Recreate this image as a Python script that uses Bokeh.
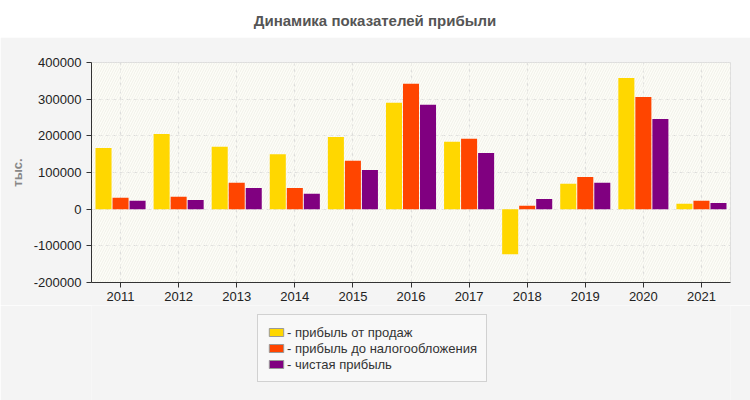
from bokeh.plotting import figure
from bokeh.models import (FactorRange, Range1d, FixedTicker, NumeralTickFormatter, Legend, LegendItem,
                          BoxAnnotation, Div)
from bokeh.layouts import column
from bokeh.transform import dodge
from bokeh.embed import file_html
from bokeh.resources import INLINE

years = ["2011", "2012", "2013", "2014", "2015", "2016", "2017", "2018", "2019", "2020", "2021"]
sales_profit = [167000, 205000, 170000, 150000, 197000, 290000, 184000, -123000, 69000, 358000, 15000]
pretax_profit = [31000, 34000, 72000, 58000, 132000, 342000, 192000, 9000, 88000, 306000, 23000]
net_profit = [23000, 25000, 58000, 42000, 107000, 285000, 153000, 28000, 72000, 246000, 17000]
series_names = ["- прибыль от продаж", "- прибыль до налогообложения", "- чистая прибыль"]
colors = ["#FFD700", "#FF4500", "#800080"]
y_ticks = [-200000, -100000, 0, 100000, 200000, 300000, 400000]

FONT = "Liberation Sans"
PANEL = "#f4f4f4"

title = Div(text="Динамика показателей прибыли", width=750, height=37, margin=0,
            styles={"text-align": "center", "font-family": FONT, "font-weight": "bold",
                    "font-size": "15px", "color": "#555", "padding-top": "10px",
                    "box-sizing": "border-box", "width": "750px"})

p = figure(width=750, height=268, x_range=FactorRange(*years), y_range=Range1d(-200000, 400000),
           output_backend="svg", toolbar_location=None, margin=0,
           min_border_left=91, min_border_right=20, min_border_top=25, min_border_bottom=23)
p.border_fill_color = PANEL
p.background_fill_color = "#fdfdf8"
p.outline_line_color = "#dddddd"

p.add_layout(BoxAnnotation(fill_color="#fdfdf8", fill_alpha=0, hatch_pattern="/", hatch_color="#f1f1e9",
                           hatch_scale=5, hatch_weight=1, line_color=None, level="underlay"))

data = dict(year=years, s=sales_profit, b=pretax_profit, n=net_profit)
offs = [-0.293, 0.0, 0.293]
keys = ["s", "b", "n"]
for k, off, c in zip(keys, offs, colors):
    p.vbar(x=dodge("year", off, range=p.x_range), top=k, bottom=0, width=0.276, source=data,
           fill_color=c, line_color=None)

p.yaxis.ticker = FixedTicker(ticks=y_ticks)
p.yaxis.formatter = NumeralTickFormatter(format="0")
p.yaxis.axis_label = "тыс."
p.yaxis.axis_label_text_font = FONT
p.yaxis.axis_label_text_font_style = "bold"
p.yaxis.axis_label_text_font_size = "13px"
p.yaxis.axis_label_text_color = "#888"
p.yaxis.axis_label_standoff = 6
for ax in (p.xaxis, p.yaxis):
    ax.major_label_text_font = FONT
    ax.major_label_text_font_size = "13px"
    ax.major_label_text_color = "#222"
    ax.axis_line_color = "#333"
    ax.major_tick_line_color = "#333"
    ax.major_tick_out = 5
    ax.major_tick_in = 0
    ax.minor_tick_line_color = None
p.xaxis.major_label_standoff = 4

p.grid.grid_line_color = "#dddddd"
p.grid.grid_line_dash = "4 3"

# legend area
lg = figure(width=750, height=95, x_range=Range1d(0, 1), y_range=Range1d(0, 1),
            x_axis_location=None, y_axis_location=None,
            output_backend="svg", toolbar_location=None, margin=0,
            min_border=0, min_border_left=0, min_border_right=0, min_border_top=0, min_border_bottom=0)
lg.grid.visible = False
lg.outline_line_color = None
lg.background_fill_color = PANEL
lg.border_fill_color = PANEL

items = []
for name, c in zip(series_names, colors):
    r = lg.vbar(x=[-10], top=[0], width=0.5, fill_color=c, line_color="#999999")
    items.append(LegendItem(label=name, renderers=[r]))

legend = Legend(items=items, location=(166, 18), orientation="vertical",
                label_text_font=FONT, label_text_font_size="13px", label_text_color="#333",
                glyph_width=18, glyph_height=10, label_standoff=2, spacing=0, padding=9,
                label_height=16, border_line_color="#aaaaaa", background_fill_color="#f8f8f8",
                background_fill_alpha=1, margin=0)
lg.add_layout(legend)

layout = column(title, p, lg, margin=0, spacing=0)
open("out.html", "w").write(file_html(layout, INLINE))
